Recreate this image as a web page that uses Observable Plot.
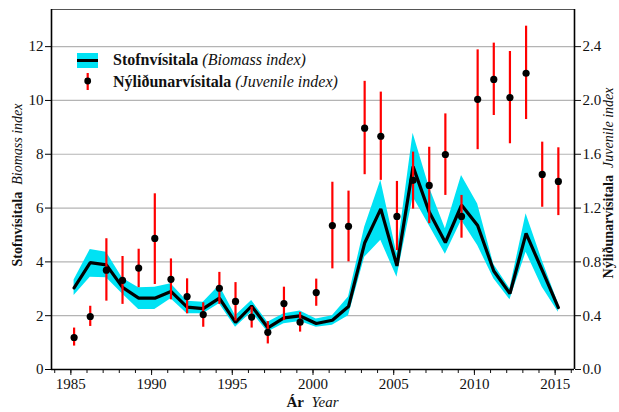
<!DOCTYPE html>
<html>
<head>
<meta charset="utf-8">
<script src="https://cdn.jsdelivr.net/npm/d3@7"></script>
<script src="https://cdn.jsdelivr.net/npm/@observablehq/plot@0.6"></script>
<style>
  html, body { margin: 0; padding: 0; background: #fff; }
  #chart { width: 619px; height: 412px; }
  #chart svg text { font-family: 'Liberation Serif', 'Times New Roman', serif; }
</style>
</head>
<body>
<div id="chart"></div>
<script>
// ---- data ----
const years = [1985,1986,1987,1988,1989,1990,1991,1992,1993,1994,1995,1996,1997,1998,1999,2000,2001,2002,2003,2004,2005,2006,2007,2008,2009,2010,2011,2012,2013,2014,2015];
const biomass     = [3.03,3.97,3.89,3.05,2.65,2.65,2.90,2.32,2.26,2.65,1.75,2.36,1.55,1.92,1.99,1.71,1.83,2.34,4.70,5.97,3.85,7.54,5.85,4.72,6.11,5.35,3.66,2.82,5.06,3.68,2.30];
const biomassLow  = [2.75,3.43,3.41,2.81,2.23,2.23,2.63,2.07,2.07,2.44,1.57,2.13,1.39,1.70,1.78,1.57,1.64,2.00,4.17,4.80,3.43,6.41,5.35,4.28,5.54,4.61,3.37,2.59,4.36,3.06,2.13];
const biomassHigh = [3.33,4.46,4.36,3.39,3.04,3.06,3.19,2.54,2.50,3.12,2.00,2.56,1.76,2.07,2.17,1.88,2.00,2.69,5.29,7.03,4.30,8.78,6.78,5.23,7.21,6.15,3.90,3.00,5.79,4.05,2.44];
const juvenile     = [0.238,0.394,0.738,0.662,0.754,0.974,0.670,0.542,0.408,0.604,0.506,0.390,0.276,0.490,0.352,0.572,1.070,1.064,1.794,1.734,1.138,1.406,1.368,1.598,1.138,2.008,2.156,2.022,2.202,1.450,1.398];
const juvenileLow  = [0.174,0.320,0.508,0.484,0.608,0.632,0.518,0.414,0.314,0.484,0.360,0.308,0.190,0.364,0.278,0.470,0.748,0.800,1.448,1.406,0.884,1.192,1.084,1.294,0.976,1.634,1.888,1.678,1.858,1.206,1.144];
const juvenileHigh = [0.308,0.470,0.972,0.840,0.894,1.306,0.822,0.674,0.496,0.722,0.646,0.464,0.356,0.612,0.424,0.672,1.392,1.326,2.142,2.062,1.398,1.616,1.652,1.900,1.294,2.376,2.426,2.364,2.552,1.690,1.648];
const leftTicks = [0,2,4,6,8,10,12];
const yearTicks = [1985,1990,1995,2000,2005,2010,2015];
const ratio = 5; // right axis = left axis / 5

// ---- table ----
const xOffset = 0.2;
const rows = years.map((y, i) => ({
  year: y + xOffset,
  b: biomass[i], bl: biomassLow[i], bh: biomassHigh[i],
  j: juvenile[i] * ratio, jl: juvenileLow[i] * ratio, jh: juvenileHigh[i] * ratio
}));

const xDomain = [1983.8, 2016.2];
const yDomain = [0, 13.38];
const FONT = "'Liberation Serif', 'Times New Roman', serif";

const svg = Plot.plot({
  width: 619,
  height: 412,
  marginLeft: 51,
  marginRight: 45,
  marginTop: 9,
  marginBottom: 43,
  style: { fontFamily: FONT, fontSize: "15px", color: "#111", background: "#fff", overflow: "visible" },
  x: { domain: xDomain },
  y: { domain: yDomain },
  marks: [
    Plot.gridY(leftTicks.filter(d => d > 0), { stroke: "#b4b4b4", strokeOpacity: 1, strokeWidth: 1.2 }),
    Plot.ruleY([yDomain[1]], { stroke: "#555", strokeWidth: 1 }),
    Plot.areaY(rows, { x: "year", y1: "bl", y2: "bh", fill: "#00e2f4", fillOpacity: 1 }),
    Plot.lineY(rows, { x: "year", y: "b", stroke: "#000", strokeWidth: 3.2, strokeLinejoin: "miter" }),
    Plot.ruleX(rows, { x: "year", y1: "jl", y2: "jh", stroke: "#ff0000", strokeWidth: 2.2 }),
    Plot.dot(rows, { x: "year", y: "j", r: 3.6, fill: "#000", stroke: "none" }),
    Plot.axisY({ anchor: "left", ticks: leftTicks, tickSize: 6, tickPadding: 2, label: null, fontSize: 15, stroke: "#000" }),
    Plot.axisY({ anchor: "right", ticks: leftTicks, tickSize: 6, tickPadding: 2, label: null, fontSize: 15, tickFormat: d => (d / ratio).toFixed(1) }),
    Plot.axisX({ ticks: d3.range(1984, 2017), tickSize: 4, tickFormat: () => "", label: null }),
    Plot.axisX({ ticks: yearTicks, tickSize: 6, tickPadding: 3, tickFormat: d => String(d), label: null, fontSize: 15 }),
    Plot.ruleX([xDomain[0], xDomain[1]], { stroke: "#000", strokeWidth: 1.6 }),
    Plot.ruleY([0], { stroke: "#000", strokeWidth: 1.6 })
  ]
});

document.getElementById("chart").appendChild(svg);

// ---- titles and legend ----
const s = d3.select(svg);
const L = 51, R = 619 - 45, T = 9, B = 412 - 43;

function richText(g, parts, attrs) {
  const t = g.append("text").attr("font-family", FONT).attr("fill", "#111");
  Object.entries(attrs).forEach(([k, v]) => t.attr(k, v));
  parts.forEach(([txt, bold, italic]) => {
    t.append("tspan")
      .attr("font-weight", bold ? "bold" : "normal")
      .attr("font-style", italic ? "italic" : "normal")
      .text(txt);
  });
  return t;
}

const cy = (T + B) / 2;
richText(s, [["Stofnvísitala", true, false], ["\u2002Biomass index", false, true]],
  { "text-anchor": "middle", "font-size": 14, transform: `translate(22,${cy - 4}) rotate(-90)` });
richText(s, [["Nýliðunarvísitala", true, false], ["\u2002Juvenile index", false, true]],
  { "text-anchor": "middle", "font-size": 14, transform: `translate(613,${cy - 6}) rotate(-90)` });
richText(s, [["Ár", true, false], ["\u2002Year", false, true]],
  { "text-anchor": "middle", "font-size": 15, x: (L + R) / 2, y: 407 });

// legend
const lg = s.append("g");
lg.append("rect").attr("x", 77).attr("y", 53).attr("width", 21).attr("height", 15).attr("fill", "#00e2f4");
lg.append("line").attr("x1", 77).attr("x2", 98).attr("y1", 60.5).attr("y2", 60.5).attr("stroke", "#000").attr("stroke-width", 3);
lg.append("line").attr("x1", 87.7).attr("x2", 87.7).attr("y1", 73).attr("y2", 90).attr("stroke", "#ff0000").attr("stroke-width", 2.2);
lg.append("circle").attr("cx", 87.7).attr("cy", 81).attr("r", 3.4).attr("fill", "#000");
richText(lg, [["Stofnvísitala", true, false], [" (Biomass index)", false, true]],
  { x: 113, y: 65, "font-size": 16, "text-anchor": "start" });
richText(lg, [["Nýliðunarvísitala", true, false], [" (Juvenile index)", false, true]],
  { x: 113, y: 86.5, "font-size": 16, "text-anchor": "start" });
</script>
</body>
</html>
